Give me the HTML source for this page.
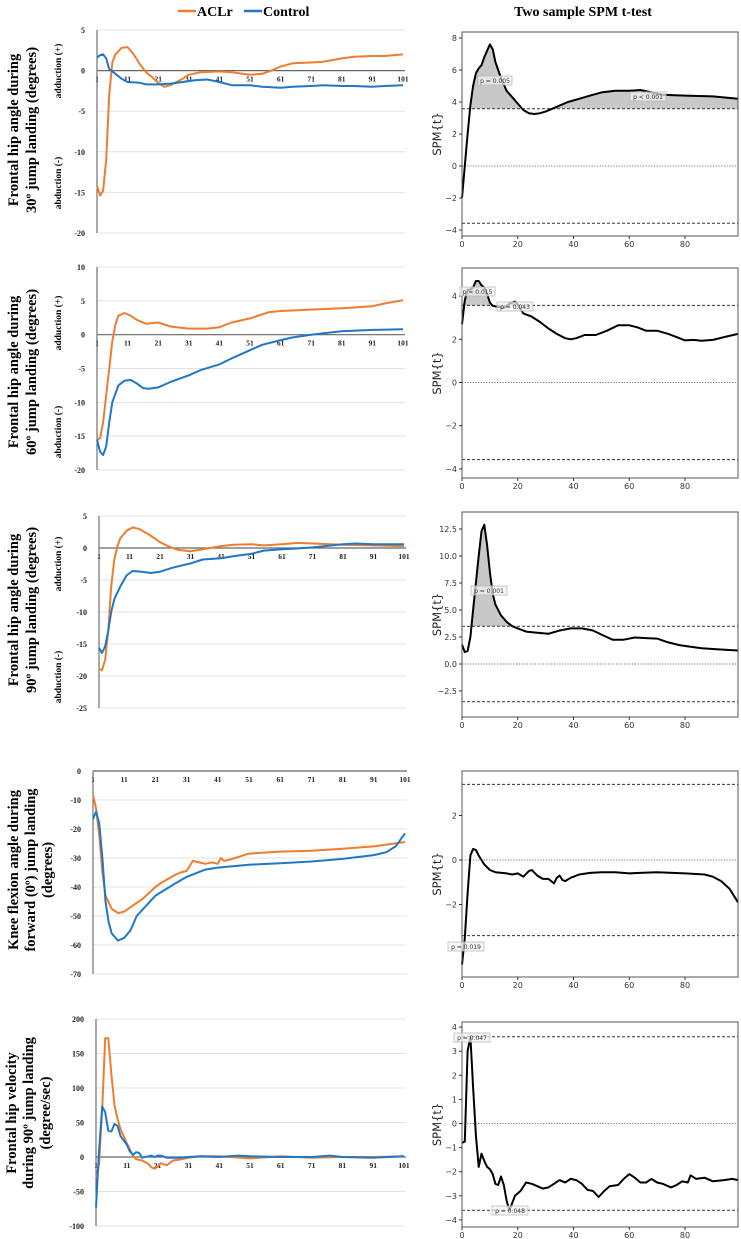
<!DOCTYPE html>
<html><head><meta charset="utf-8">
<style>
html,body{margin:0;padding:0;background:#fff;}
svg{display:block;}
</style></head>
<body>
<svg id="fig" width="741" height="1239" viewBox="0 0 741 1239" xmlns="http://www.w3.org/2000/svg">
<g>
<line x1="178" y1="11" x2="196" y2="11" stroke="#ED7D31" stroke-width="2.5"/>
<text x="197" y="16" font-family="Liberation Serif, serif" font-weight="bold" font-size="14">ACLr</text>
<line x1="244" y1="11" x2="262" y2="11" stroke="#1F77C8" stroke-width="2.5"/>
<text x="263" y="16" font-family="Liberation Serif, serif" font-weight="bold" font-size="14">Control</text>
</g>
<text x="583" y="16" text-anchor="middle" font-family="Liberation Serif, serif" font-weight="bold" font-size="14">Two sample SPM t-test</text>
</svg>
<script>
// ---------- Data: left panels ----------
const p1AclrX=[1,2,3,4,5,6,7,9,11,13,15,17,19,21,23,25,27,29,31,35,41,45,51,55,58,61,65,71,75,81,85,91,95,101];
const p1AclrY=[-14.2,-15.4,-14.8,-11,-3,1,2,2.8,2.9,2.0,0.8,-0.2,-0.8,-1.5,-2,-1.8,-1.4,-1,-0.5,-0.2,-0.1,-0.2,-0.5,-0.4,0,0.5,0.9,1.0,1.1,1.5,1.7,1.8,1.8,2.0];
const p1CtrlX=[1,2,3,4,5,7,9,11,15,17,21,25,29,33,37,41,45,51,55,61,65,71,75,81,85,91,95,101];
const p1CtrlY=[1.6,1.9,2.0,1.5,0.2,-0.4,-1.0,-1.4,-1.5,-1.7,-1.7,-1.6,-1.4,-1.2,-1.1,-1.4,-1.8,-1.8,-2.0,-2.1,-2.0,-1.9,-1.8,-1.9,-1.9,-2.0,-1.9,-1.8];

const p2AclrX=[1,2,3,5,6,7,8,10,12,14,17,21,23,25,31,37,41,45,51,57,61,71,81,91,95,101];
const p2AclrY=[-15.5,-15.3,-13,-5,-1,1.5,2.8,3.2,2.8,2.2,1.6,1.8,1.5,1.2,0.9,0.9,1.1,1.8,2.4,3.3,3.5,3.7,3.9,4.2,4.6,5.1];
const p2CtrlX=[1,2,3,4,5,6,8,10,12,14,16,18,21,25,31,35,41,45,51,55,61,65,71,75,81,91,101];
const p2CtrlY=[-15.5,-17.3,-17.8,-16.5,-13,-10,-7.5,-6.8,-6.7,-7.2,-7.9,-8.0,-7.8,-7.0,-6.0,-5.2,-4.4,-3.5,-2.3,-1.5,-0.8,-0.4,0,0.2,0.5,0.7,0.8];

const p3AclrX=[1,2,3,4,5,6,7,8,10,12,14,17,19,21,24,27,31,35,41,45,51,55,61,66,71,81,91,101];
const p3AclrY=[-18.9,-19.1,-17.5,-13,-6,-1.8,0.2,1.5,2.7,3.2,3.0,2.2,1.6,0.9,0.2,-0.3,-0.5,-0.2,0.3,0.5,0.6,0.4,0.6,0.8,0.7,0.5,0.4,0.3];
const p3CtrlX=[1,2,3,4,5,6,8,10,12,15,18,21,25,31,35,41,45,51,55,61,65,71,75,81,85,91,101];
const p3CtrlY=[-15.6,-16.4,-15.4,-13,-10,-8,-6,-4.3,-3.6,-3.7,-3.9,-3.7,-3.1,-2.4,-1.8,-1.6,-1.3,-0.9,-0.4,-0.2,-0.1,0.1,0.3,0.6,0.7,0.6,0.6];

const p4AclrX=[1,2,3,4,5,7,9,11,13,17,21,23,27,29,31,33,35,37,39,41,42,43,45,51,61,71,81,91,101];
const p4AclrY=[-8.2,-13,-22,-35,-43,-47.5,-49,-48.5,-47,-44,-40,-38.5,-36,-35,-34.5,-31,-31.5,-32,-31.5,-32,-30,-31,-30.5,-28.5,-27.8,-27.5,-26.8,-26,-24.5];
const p4CtrlX=[1,2,3,4,5,6,7,9,11,13,15,21,27,31,37,41,51,61,71,81,91,95,98,101];
const p4CtrlY=[-16.5,-14,-18,-30,-45,-52,-56,-58.5,-57.5,-55,-50,-43,-39,-36.5,-34,-33.3,-32.3,-31.8,-31.2,-30.3,-29,-28,-26,-21.5];

const p5AclrX=[1,2,3,4,5,6,7,8,9,11,13,14,16,18,19,20,21,22,24,26,29,31,35,41,51,61,71,81,91,101];
const p5AclrY=[-32,-10,70,172,172,120,75,55,40,20,2,-3,-5,-10,-15,-17,-14,-9,-12,-5,-3,-1,1,1,-2,1,-1,0,0,1];
const p5CtrlX=[1,2,3,4,5,6,7,8,9,11,12,13,14,15,16,18,19,20,21,22,24,28,31,35,41,47,51,61,71,77,81,91,101];
const p5CtrlY=[-73,10,73,65,38,37,48,45,30,18,8,3,7,6,-1,1,2,0,2,2,-1,-1,0,1,0,2,1,0,0,2,0,-1,1];

const leftXTicks=[1,11,21,31,41,51,61,71,81,91,101];
const p1YTicks=[5,0,-5,-10,-15,-20];
const p2YTicks=[10,5,0,-5,-10,-15,-20];
const p3YTicks=[5,0,-5,-10,-15,-20,-25];
const p4YTicks=[0,-10,-20,-30,-40,-50,-60,-70];
const p5YTicks=[200,150,100,50,0,-50,-100];

// ---------- Data: SPM panels ----------
const r1X=[0,1,2,3,4,5,6,7,8,10,11,12,14,16,18,20,22,24,26,28,30,34,38,42,46,50,55,60,64,68,72,80,90,99];
const r1T=[-2,0,2,3.8,5,5.8,6.1,6.3,6.8,7.6,7.3,6.5,5.5,4.7,4.3,3.9,3.5,3.3,3.25,3.3,3.4,3.7,4.0,4.2,4.4,4.6,4.7,4.7,4.75,4.6,4.45,4.4,4.35,4.2];
const r2X=[0,1,2,3,4,5,6,7,8,9,10,11,13,15,17,19,20,22,25,28,31,34,37,39,41,44,48,52,56,60,63,66,70,74,77,80,83,86,90,94,99];
const r2T=[2.7,3.8,4.3,4.3,4.4,4.7,4.7,4.5,4.4,4.1,3.7,3.55,3.5,3.45,3.65,3.75,3.6,3.2,3.05,2.8,2.5,2.25,2.05,2.0,2.05,2.2,2.2,2.4,2.65,2.65,2.55,2.4,2.4,2.25,2.1,1.95,1.97,1.93,1.97,2.1,2.25];
const r3X=[0,1,2,3,4,5,6,7,8,9,10,11,12,14,16,18,20,23,27,31,35,39,43,47,51,54,58,62,66,70,74,78,82,86,92,99];
const r3T=[1.8,1.1,1.2,2.5,5,7.5,10,12.3,12.9,11,8.5,6.5,5.5,4.5,3.9,3.5,3.3,3.0,2.9,2.8,3.1,3.3,3.3,3.1,2.6,2.25,2.25,2.45,2.4,2.35,2.0,1.75,1.6,1.45,1.35,1.25];
const r4X=[0,1,2,3,4,5,6,8,10,12,16,18,20,22,24,25,27,29,31,32,33,34,35,36,37,39,42,46,50,55,60,65,70,80,87,90,93,96,99];
const r4T=[-4.7,-3.5,-1.5,0.2,0.5,0.45,0.2,-0.2,-0.45,-0.55,-0.6,-0.65,-0.6,-0.75,-0.5,-0.45,-0.7,-0.85,-0.85,-0.95,-1.05,-0.8,-0.7,-0.9,-0.95,-0.8,-0.65,-0.58,-0.55,-0.55,-0.6,-0.57,-0.55,-0.6,-0.65,-0.75,-0.95,-1.3,-1.9];
const r5X=[0,1,2,3,4,5,6,7,8,9,10,11,12,13,14,15,16,17,18,19,21,23,25,27,29,31,33,35,37,39,41,43,45,47,49,51,53,56,58,60,62,64,66,68,70,72,75,77,79,81,82,84,87,90,94,97,99];
const r5T=[-0.8,-0.75,3,3.6,1.5,-0.5,-1.8,-1.25,-1.55,-1.8,-1.9,-2.1,-2.5,-2.55,-2.2,-2.55,-3.2,-3.6,-3.3,-3.0,-2.8,-2.45,-2.5,-2.6,-2.7,-2.65,-2.5,-2.35,-2.45,-2.3,-2.35,-2.5,-2.75,-2.8,-3.05,-2.8,-2.6,-2.55,-2.3,-2.1,-2.25,-2.45,-2.45,-2.3,-2.45,-2.5,-2.65,-2.55,-2.4,-2.45,-2.15,-2.3,-2.25,-2.4,-2.35,-2.3,-2.35];

const r1Thr=[3.58,-3.58], r2Thr=[3.57,-3.57], r3Thr=[3.5,-3.5], r4Thr=[3.4,-3.4], r5Thr=[3.6,-3.6];
const r1Ticks=[8,6,4,2,0,-2,-4];
const r2Ticks=[4,2,0,-2,-4];
const r3Ticks=[12.5,10.0,7.5,5.0,2.5,0.0,-2.5];
const r4Ticks=[2,0,-2];
const r5Ticks=[4,3,2,1,0,-1,-2,-3,-4];
const spmXTicks=[0,20,40,60,80];

const NS='http://www.w3.org/2000/svg';
const svg=document.getElementById('fig');
function mk(tag,attrs,parent){const e=document.createElementNS(NS,tag);for(const k in attrs)e.setAttribute(k,attrs[k]);(parent||svg).appendChild(e);return e;}
function txt(s,attrs,parent){const e=mk('text',attrs,parent);e.textContent=s;return e;}

function leftPanel(o){
  const g=mk('g',{});
  
  
  const sx=v=>o.x0+(v-1)*(o.x1-o.x0)/100;
  const sy=v=>o.yTop+(o.vmax-v)*(o.yBot-o.yTop)/(o.vmax-o.vmin);
  o.yTicks.forEach(t=>{
    const y=sy(t);
    if(t!==0){const l=mk('line',{x1:o.x0,x2:o.x1+2,y1:y,y2:y,stroke:'#e3e3e3','stroke-width':1},g);
      }
    const tl=txt(String(t),{x:o.x0-12,y:y+3,'text-anchor':'end','font-family':'Liberation Serif, serif','font-weight':'bold','font-size':8,fill:'#222'},g);
    
  });
  const ax=mk('line',{x1:o.x0,x2:o.x0,y1:o.yTop,y2:o.yBot,stroke:'#555','stroke-width':1},g);
  
  const zy=sy(0);
  const zl=mk('line',{x1:o.x0,x2:o.x1+2,y1:zy,y2:zy,stroke:'#666','stroke-width':1.2},g);
  
  leftXTicks.forEach(t=>{
    const xl=txt(String(t),{x:sx(t),y:zy+11,'text-anchor':'middle','font-family':'Liberation Serif, serif','font-weight':'bold','font-size':7.5,fill:'#222'},g);
    
  });
  [[o.ax,o.ay,'#ED7D31','aclr-line'],[o.cx,o.cy,'#1F77C8','control-line']].forEach(s=>{
    const d=s[0].map((x,i)=>(i?'L':'M')+sx(x).toFixed(1)+' '+sy(s[1][i]).toFixed(1)).join(' ');
    const p=mk('path',{d:d,fill:'none',stroke:s[2],'stroke-width':2,'stroke-linejoin':'round'},g);
    
  });
  const tg=mk('g',{transform:`translate(0,${o.tcy}) rotate(-90)`},g);
  o.title.forEach((line,i)=>{
    const t=txt(line,{x:0,y:o.tx[i],'text-anchor':'middle','font-family':'Liberation Serif, serif','font-weight':'bold','font-size':14.5},tg);
    
  });
  if(o.sub){
    const a=txt('adduction (+)',{x:0,y:0,'text-anchor':'middle','font-family':'Liberation Serif, serif','font-weight':'bold','font-size':9.5,transform:`translate(61,${o.sub[0]}) rotate(-90)`},g);
    
    const b=txt('abduction (-)',{x:0,y:0,'text-anchor':'middle','font-family':'Liberation Serif, serif','font-weight':'bold','font-size':9.5,transform:`translate(61,${o.sub[1]}) rotate(-90)`},g);
    
  }
}

leftPanel({name:'hip-angle-30-chart',x0:97,x1:403,yTop:30,yBot:233,vmax:5,vmin:-20,yTicks:p1YTicks,ax:p1AclrX,ay:p1AclrY,cx:p1CtrlX,cy:p1CtrlY,
  title:['Frontal hip angle during','30º jump landing  (degrees)'],tx:[18,36],tcy:130,sub:[71,183]});
leftPanel({name:'hip-angle-60-chart',x0:97,x1:403,yTop:267,yBot:470,vmax:10,vmin:-20,yTicks:p2YTicks,ax:p2AclrX,ay:p2AclrY,cx:p2CtrlX,cy:p2CtrlY,
  title:['Frontal hip angle during','60º jump landing (degrees)'],tx:[18,36],tcy:372,sub:[323,432]});
leftPanel({name:'hip-angle-90-chart',x0:99,x1:404,yTop:516,yBot:708,vmax:5,vmin:-25,yTicks:p3YTicks,ax:p3AclrX,ay:p3AclrY,cx:p3CtrlX,cy:p3CtrlY,
  title:['Frontal hip angle during','90º jump landing (degrees)'],tx:[18,36],tcy:610,sub:[564,677]});
leftPanel({name:'knee-flexion-chart',x0:93,x1:405,yTop:771,yBot:974,vmax:0,vmin:-70,yTicks:p4YTicks,ax:p4AclrX,ay:p4AclrY,cx:p4CtrlX,cy:p4CtrlY,
  title:['Knee flexion angle during','forward (0º) jump landing','(degrees)'],tx:[18,35,52],tcy:870});
leftPanel({name:'hip-velocity-chart',x0:96,x1:404,yTop:1019,yBot:1226,vmax:200,vmin:-100,yTicks:p5YTicks,ax:p5AclrX,ay:p5AclrY,cx:p5CtrlX,cy:p5CtrlY,
  title:['Frontal hip velocity','during 90º jump landing','(degree/sec)'],tx:[16,33,50],tcy:1113});

function spmPanel(o){
  const g=mk('g',{});
  
  
  const L=462,R=738;
  const sx=v=>L+v*(685-462)/80;
  const sy=v=>o.y0-v*o.k;
  const thr=o.thr[0];
  let d='';
  o.x.forEach((x,i)=>{d+=(i?'L':'M')+sx(x).toFixed(1)+' '+sy(Math.max(o.t[i],thr)).toFixed(1)+' ';});
  d+='L'+sx(o.x[o.x.length-1]).toFixed(1)+' '+sy(thr).toFixed(1)+' L'+sx(o.x[0]).toFixed(1)+' '+sy(thr).toFixed(1)+' Z';
  const sh=mk('path',{d:d,fill:'#c8c8c8',stroke:'none'},g);
  
  const zl=mk('line',{x1:L,x2:R,y1:sy(0),y2:sy(0),stroke:'#777','stroke-width':1,'stroke-dasharray':'1.2,1.5'},g);
  
  o.thr.forEach(v=>{const l=mk('line',{x1:L,x2:R,y1:sy(v),y2:sy(v),stroke:'#333','stroke-width':1,'stroke-dasharray':'3,2'},g);
    });
  const d2=o.x.map((x,i)=>(i?'L':'M')+sx(x).toFixed(1)+' '+sy(o.t[i]).toFixed(1)).join(' ');
  const p=mk('path',{d:d2,fill:'none',stroke:'#000','stroke-width':2,'stroke-linejoin':'round'},g);
  
  const box=mk('rect',{x:L,y:o.top,width:R-L,height:o.bot-o.top,fill:'none',stroke:'#555','stroke-width':1},g);
  
  o.ticks.forEach(t=>{
    const y=sy(t);
    mk('line',{x1:L-3,x2:L,y1:y,y2:y,stroke:'#333'},g);
    const s=(o.dec)?t.toFixed(1):String(t);
    const tl=txt(s.replace('-','−'),{x:L-5,y:y+3,'text-anchor':'end','font-family':'DejaVu Sans, sans-serif','font-size':8,fill:'#333'},g);
    
  });
  spmXTicks.forEach(t=>{
    mk('line',{x1:sx(t),x2:sx(t),y1:o.bot,y2:o.bot+3,stroke:'#333'},g);
    const xl=txt(String(t),{x:sx(t),y:o.bot+11,'text-anchor':'middle','font-family':'DejaVu Sans, sans-serif','font-size':8,fill:'#333'},g);
    
  });
  const yl=txt('SPM{t}',{x:0,y:0,'text-anchor':'middle','font-family':'DejaVu Sans, sans-serif','font-size':11.5,fill:'#222',transform:`translate(441,${(o.top+o.bot)/2}) rotate(-90)`},g);
  
  o.labels.forEach(lb=>{
    const r=mk('rect',{x:lb[0],y:lb[1],width:lb[3],height:9,fill:'#f2f2f2','fill-opacity':0.7,stroke:'#bbb','stroke-width':0.8},g);
    
    const t=txt(lb[2],{x:lb[0]+lb[3]/2,y:lb[1]+6.8,'text-anchor':'middle','font-family':'DejaVu Sans, sans-serif','font-size':6,fill:'#333'},g);
    
  });
}
spmPanel({name:'spm-hip-30',top:32,bot:236,y0:166,k:16,thr:r1Thr,x:r1X,t:r1T,ticks:r1Ticks,labels:[[478,76,'p = 0.005',34],[630,92,'p < 0.001',36]]});
spmPanel({name:'spm-hip-60',top:268,bot:478,y0:382.5,k:21.6,thr:r2Thr,x:r2X,t:r2T,ticks:r2Ticks,labels:[[460,287,'p = 0.015',35],[497,302,'p = 0.043',36]]});
spmPanel({name:'spm-hip-90',top:512,bot:717,y0:664,k:10.8,thr:r3Thr,x:r3X,t:r3T,ticks:r3Ticks,dec:true,labels:[[471,586,'p = 0.001',36]]});
spmPanel({name:'spm-knee',top:771,bot:977,y0:860,k:22.25,thr:r4Thr,x:r4X,t:r4T,ticks:r4Ticks,labels:[[448,942,'p = 0.019',36]]});
spmPanel({name:'spm-velocity',top:1022,bot:1227,y0:1123.5,k:24.1,thr:r5Thr,x:r5X,t:r5T,ticks:r5Ticks,labels:[[454,1033,'p = 0.047',36],[492,1206,'p = 0.048',36]]});
</script>
</body></html>
